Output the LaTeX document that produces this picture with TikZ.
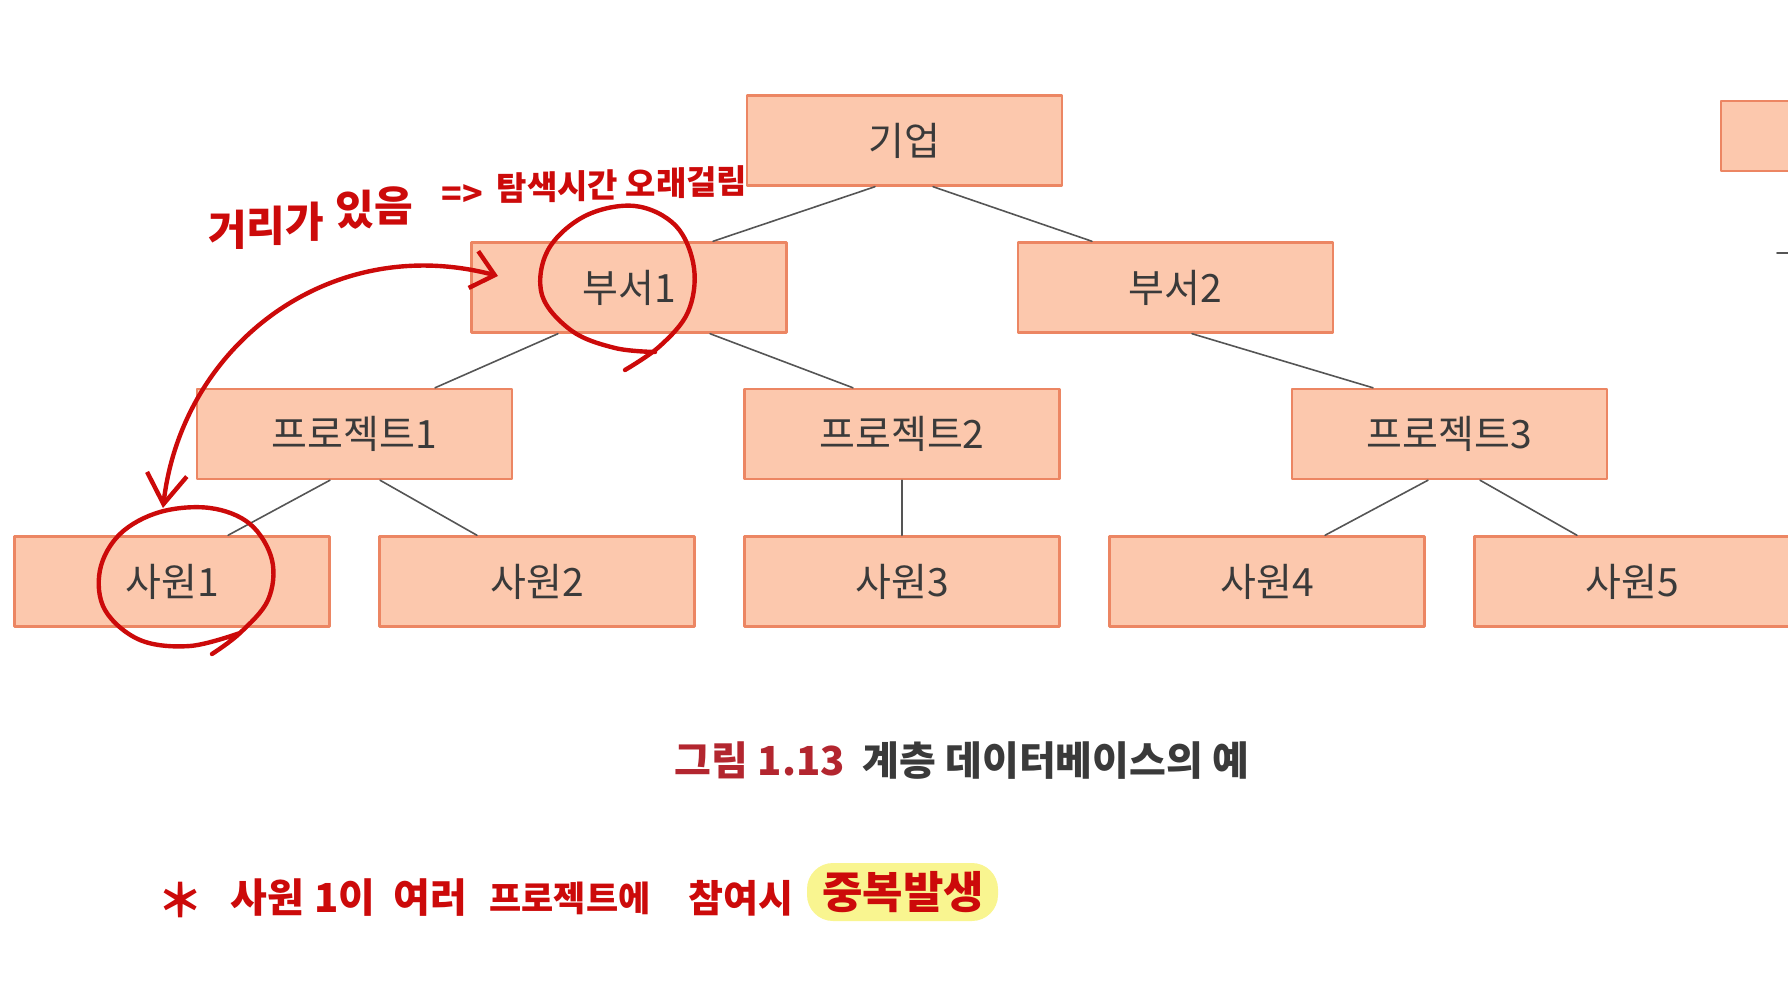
\documentclass[tikz,border=0pt]{standalone}
\usepackage{fontspec}
\setmainfont{Noto Sans CJK KR}
\usetikzlibrary{arrows.meta}
\providecommand{\Fill}{FCC8AD}
\providecommand{\Rim}{EC8663}
\newcommand{\Unit}{1pt}
\newcommand{\BoxW}{315pt}
\newcommand{\BoxH}{90pt}
\newcommand{\Pen}{4.4pt}
\newcommand{\Up}[2]{\raisebox{#1pt}{#2}}
\definecolor{boxfill}{HTML}{\Fill}
\definecolor{rim}{HTML}{\Rim}
\definecolor{ink}{HTML}{3A3A3A}
\definecolor{wire}{HTML}{555555}
\definecolor{scribble}{HTML}{CC0A0A}
\definecolor{capred}{HTML}{B3262F}
\definecolor{marker}{HTML}{F8F37C}

\tikzset{
  tbox/.style={draw=rim, fill=boxfill, line width=2.4pt, inner sep=0pt,
    minimum width=\BoxW, minimum height=\BoxH, text=ink,
    font=\fontsize{39}{42}\selectfont},
  wire/.style={draw=wire, line width=1.6pt},
  scrawl/.style={draw=scribble, line width=\Pen},
  handtext/.style={text=scribble, inner sep=0pt, font=\bfseries\fontsize{#1}{#1}\selectfont},
  handtext/.default=38
}

\begin{document}
\begin{tikzpicture}[x=\Unit,y=-\Unit, line join=round, line cap=round]
  \useasboundingbox (0,0) rectangle (1788,1000);
  \clip (0,0) rectangle (1788,1000);

  % ---- the tree: one row per level ---------------------------------------
  \node[tbox] (giup)   at (904.5,140.5) {기업};
  \node[tbox] (buseo1) at (629,287.5)   {부서1};
  \node[tbox] (buseo2) at (1175.5,287.5){부서2};
  \node[tbox] (proj1)  at (354.5,434)   {프로젝트1};
  \node[tbox] (proj2)  at (902,434)     {프로젝트2};
  \node[tbox] (proj3)  at (1449.5,434)  {프로젝트3};
  \node[tbox] (sawon1) at (172,581.5)   {사원1};
  \node[tbox] (sawon2) at (537,581.5)   {사원2};
  \node[tbox] (sawon3) at (902,581.5)   {사원3};
  \node[tbox] (sawon4) at (1267,581.5)  {사원4};
  \node[tbox] (sawon5) at (1632,581.5)  {사원5};

  % the next figure peeks in at the right edge
  \node[tbox, minimum height=70pt, anchor=north west] (stub) at (1720,100) {};
  \coordinate (stubL) at (1777,253);
  \coordinate (stubR) at (1790,253);
  \draw[wire] (stubL) -- (stubR);

  % ---- edges ------------------------------------------------------------
  \draw[wire] ([xshift=-29.5pt]giup.south)  -- ([xshift=84pt]buseo1.north);
  \draw[wire] ([xshift=28.5pt]giup.south)   -- ([xshift=-83.5pt]buseo2.north);
  \draw[wire] ([xshift=-71pt]buseo1.south)  -- ([xshift=80.5pt]proj1.north);
  \draw[wire] ([xshift=81pt]buseo1.south)   -- ([xshift=-49pt]proj2.north);
  \draw[wire] ([xshift=16.5pt]buseo2.south) -- ([xshift=-76.5pt]proj3.north);
  \draw[wire] ([xshift=-24.5pt]proj1.south) -- ([xshift=56pt]sawon1.north);
  \draw[wire] ([xshift=25.5pt]proj1.south)  -- ([xshift=-60pt]sawon2.north);
  \draw[wire] (proj2.south) -- (sawon3.north);
  \draw[wire] ([xshift=-21.5pt]proj3.south) -- ([xshift=58pt]sawon4.north);
  \draw[wire] ([xshift=30.5pt]proj3.south)  -- ([xshift=-55pt]sawon5.north);

  % ---- caption ----------------------------------------------------------
  \node[font=\bfseries\fontsize{40}{42}\selectfont, text=ink] (caption) at (962,761)
    {\textcolor{capred}{그림 1.13}\hspace{18pt}계층 데이터베이스의 예};

  % ---- pen marks on top of the page -------------------------------------
  % ring round 부서1, the stroke overshoots into a tail
  \draw[scrawl] plot[smooth, tension=0.6] coordinates {
    (655,352) (615,348) (572,331) (542,295) (548,250) (585,216) (635,206)
    (676,226) (694,268) (688,312) (660,346) (625,370)};
  % ring round 사원1
  \draw[scrawl] plot[smooth, tension=0.6] coordinates {
    (240,633) (190,646) (140,640) (105,610) (100,570) (120,534) (160,512)
    (210,508) (250,524) (272,560) (268,600) (240,633) (212,654)};

  % long way round: 사원1 up to 부서1
  \coordinate (farEnd)  at (163,508);
  \coordinate (nearEnd) at (498,276);
  \draw[scrawl, {Straight Barb[length=30pt,width=40pt]}-{Straight Barb[length=22pt,width=38pt]}]
    (farEnd) .. controls (182,345) and (330,232) .. (nearEnd);

  % handwriting climbs to the right, so each letter sits a little higher
  \node[handtext=42] (note1a) at (266,226) {거\Up{4}{리}\Up{8}{가}};
  \node[handtext=42] (note1b) at (374,208) {있\Up{4}{음}};
  \node[handtext=34] (note2)  at (462,196) {=>};
  \node[handtext=33] (note3)  at (622,184) {탐\Up{1}{색}\Up{2}{시}\Up{3}{간} \Up{4}{오}\Up{5}{래}\Up{6}{걸}\Up{7}{림}};

  % ---- footnote, with a highlighter swipe under the end -----------------
  \fill[marker, opacity=0.85, rounded corners=26pt] (807,863) rectangle (998,921);
  \node[handtext=46] (star)   at (180,900) {＊};
  \node[handtext=40] (word1)  at (267,898) {사원};
  \node[handtext=40] (word2)  at (345,898) {1이};
  \node[handtext=40] (word3)  at (430,898) {여러};
  \node[handtext=35] (word4)  at (570,898) {프로젝트에};
  \node[handtext=38] (word5)  at (741,898) {참여시};
  \node[handtext=44] (word6)  at (903,892) {중복발생};

\end{tikzpicture}
\end{document}
